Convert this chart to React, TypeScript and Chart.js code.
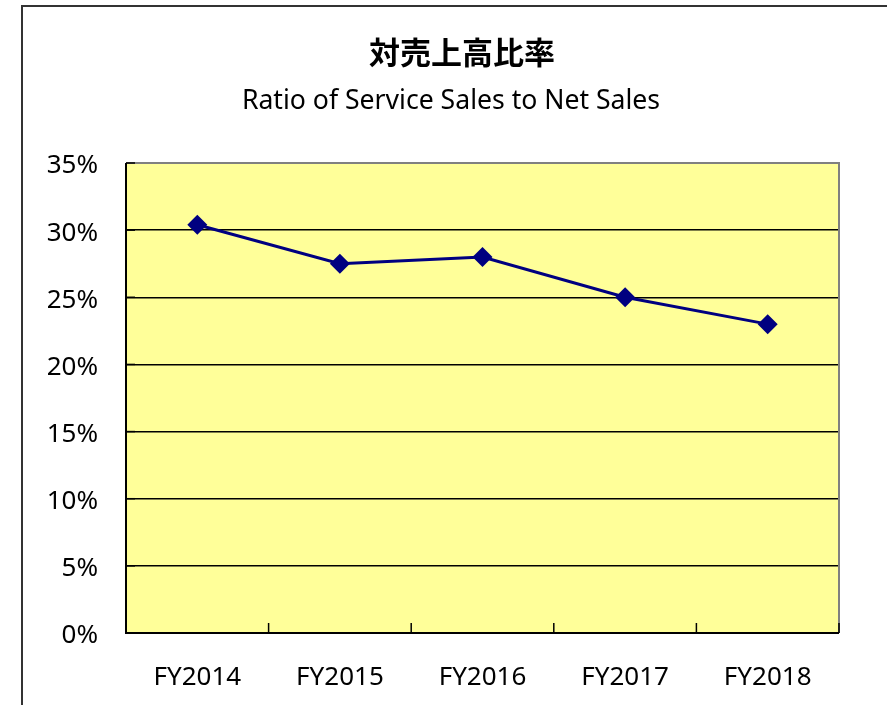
import React, { useEffect, useRef } from "react";
import { Chart, registerables } from "chart.js";

Chart.register(...registerables);

const categories = ["FY2014", "FY2015", "FY2016", "FY2017", "FY2018"];
const ratioValues = [30.4, 27.5, 28.0, 25.0, 23.0];
const yTicks = [0, 5, 10, 15, 20, 25, 30, 35];
const titleText = "対売上高比率";
const subtitleText = "Ratio of Service Sales to Net Sales";

const FONT = "'Noto Sans', 'Noto Sans CJK JP', sans-serif";

const plotDecor = {
  id: "plotDecor",
  beforeDraw(chart: any) {
    const { ctx, chartArea } = chart;
    const { left, right, top, bottom } = chartArea;
    ctx.save();
    ctx.fillStyle = "#FFFF99";
    ctx.fillRect(left, top, right - left, bottom - top);
    ctx.restore();
  },
  afterDraw(chart: any) {
    const { ctx, chartArea } = chart;
    const { left, right, top, bottom } = chartArea;
    ctx.save();
    ctx.strokeStyle = "#808080";
    ctx.lineWidth = 2;
    ctx.beginPath();
    ctx.moveTo(left, top);
    ctx.lineTo(right, top);
    ctx.lineTo(right, bottom);
    ctx.stroke();
    ctx.strokeStyle = "#000";
    ctx.lineWidth = 2;
    ctx.beginPath();
    ctx.moveTo(left, top);
    ctx.lineTo(left, bottom);
    ctx.lineTo(right, bottom);
    ctx.stroke();
    const ys = chart.scales.y;
    ctx.lineWidth = 1.5;
    for (const v of yTicks) {
      const py = ys.getPixelForValue(v);
      ctx.beginPath();
      ctx.moveTo(left, py);
      ctx.lineTo(left + 9, py);
      ctx.stroke();
    }
    const xs = chart.scales.x;
    for (let i = 0; i < categories.length; i++) {
      let bx;
      if (i + 1 < categories.length) bx = (xs.getPixelForValue(i) + xs.getPixelForValue(i + 1)) / 2;
      else bx = right;
      ctx.beginPath();
      ctx.moveTo(bx, bottom);
      ctx.lineTo(bx, bottom - 10);
      ctx.stroke();
    }
    ctx.fillStyle = "#000";
    ctx.textAlign = "center";
    ctx.textBaseline = "middle";
    ctx.font = `bold 31px ${FONT}`;
    ctx.fillText(titleText, 462, 55);
    ctx.font = `26.6px ${FONT}`;
    ctx.fillText(subtitleText, 451, 101);
    ctx.restore();
  },
};

export default function App() {
  const ref = useRef<HTMLCanvasElement>(null);
  useEffect(() => {
    if (!ref.current) return;
    const chart = new Chart(ref.current, {
      type: "line",
      data: {
        labels: categories,
        datasets: [
          {
            data: ratioValues,
            borderColor: "#000080",
            backgroundColor: "#000080",
            borderWidth: 3,
            pointStyle: "rectRot",
            pointRadius: 10,
            pointBorderWidth: 0,
            pointBackgroundColor: "#000080",
            tension: 0,
          },
        ],
      },
      options: {
        responsive: false,
        animation: false,
        layout: { padding: { top: 163, left: 0, right: 48, bottom: 0 } },
        plugins: {
          legend: { display: false },
          title: { display: false },
          tooltip: { enabled: false },
        },
        scales: {
          x: {
            type: "category",
            offset: true,
            grid: { display: false },
            border: { display: false },
            ticks: {
              color: "#000",
              padding: 21,
              font: { family: FONT, size: 26 },
              maxRotation: 0,
            },
            afterFit: (s: any) => {
              s.height = 72;
            },
          },
          y: {
            min: 0,
            max: 35,
            border: { display: false },
            grid: {
              drawTicks: false,
              color: (c: any) => (c.tick && c.tick.value === 35 ? "rgba(0,0,0,0)" : "#000"),
              lineWidth: 1.5,
            },
            ticks: {
              stepSize: 5,
              color: "#000",
              padding: 28,
              labelOffset: 3,
              font: { family: FONT, size: 26 },
              callback: (v: any) => `${v}%`,
            },
            afterFit: (s: any) => {
              s.width = 126;
            },
          },
        },
      },
      plugins: [plotDecor],
    });
    return () => chart.destroy();
  }, []);
  return (
    <div style={{ position: "fixed", left: 0, top: 0, width: 887, height: 705, background: "#fff", overflow: "hidden" }}>
      <div
        style={{
          position: "absolute",
          left: 21,
          top: 5,
          width: 900,
          height: 800,
          border: "2px solid #333",
          boxSizing: "border-box",
        }}
      />
      <canvas ref={ref} width={887} height={705} style={{ position: "absolute", left: 0, top: 0 }} />
    </div>
  );
}
